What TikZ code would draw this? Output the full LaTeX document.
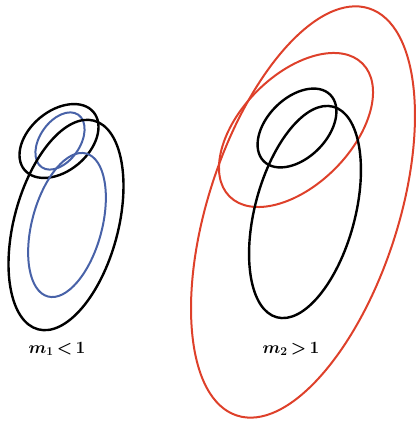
\documentclass[tikz,border=0pt]{standalone}
\usepackage{tikz}
\usetikzlibrary{positioning}

\definecolor{curveblue}{RGB}{72,98,168}
\definecolor{curvered}{RGB}{222,64,42}

\begin{document}
\begin{tikzpicture}[
    x=1pt, y=1pt,
    orbit_black/.style={draw=black, line width=2.4pt},
    orbit_blue/.style={draw=curveblue, line width=2pt},
    orbit_red/.style={draw=curvered, line width=2pt},
    label/.style={font=\fontsize{17}{19}\selectfont\boldmath, inner sep=0pt},
]
    \useasboundingbox (0, 0) rectangle (418, 423);

    % left group, m1 < 1
    \coordinate(small_l) at (59, 282);
    \coordinate(small_blue_l) at (60, 282);
    \coordinate(large_l) at (66, 198);
    \coordinate(large_blue_l) at (67, 198);
    \draw[orbit_black, rotate around={40:(small_l)}] (small_l) ellipse [x radius=45, y radius=30];
    \draw[orbit_blue, rotate around={55:(small_blue_l)}] (small_blue_l) ellipse [x radius=32, y radius=20];
    \draw[orbit_black, rotate around={75:(large_l)}] (large_l) ellipse [x radius=108, y radius=52];
    \draw[orbit_blue, rotate around={75:(large_blue_l)}] (large_blue_l) ellipse [x radius=74, y radius=35];
    \node(label_l)[label] at (57, 74) {$m_1\,{<}\,1$};

    % right group, m2 > 1
    \coordinate(outer_red_r) at (303, 211);
    \coordinate(mid_red_r) at (296, 293);
    \coordinate(small_r) at (297, 295);
    \coordinate(large_r) at (305, 211);
    \draw[orbit_red, rotate around={72:(outer_red_r)}] (outer_red_r) ellipse [x radius=214, y radius=95];
    \draw[orbit_red, rotate around={45:(mid_red_r)}] (mid_red_r) ellipse [x radius=94, y radius=55];
    \draw[orbit_black, rotate around={45:(small_r)}] (small_r) ellipse [x radius=47, y radius=30];
    \draw[orbit_black, rotate around={75:(large_r)}] (large_r) ellipse [x radius=109, y radius=50];
    \node(label_r)[label] at (291, 74) {$m_2\,{>}\,1$};
\end{tikzpicture}
\end{document}
